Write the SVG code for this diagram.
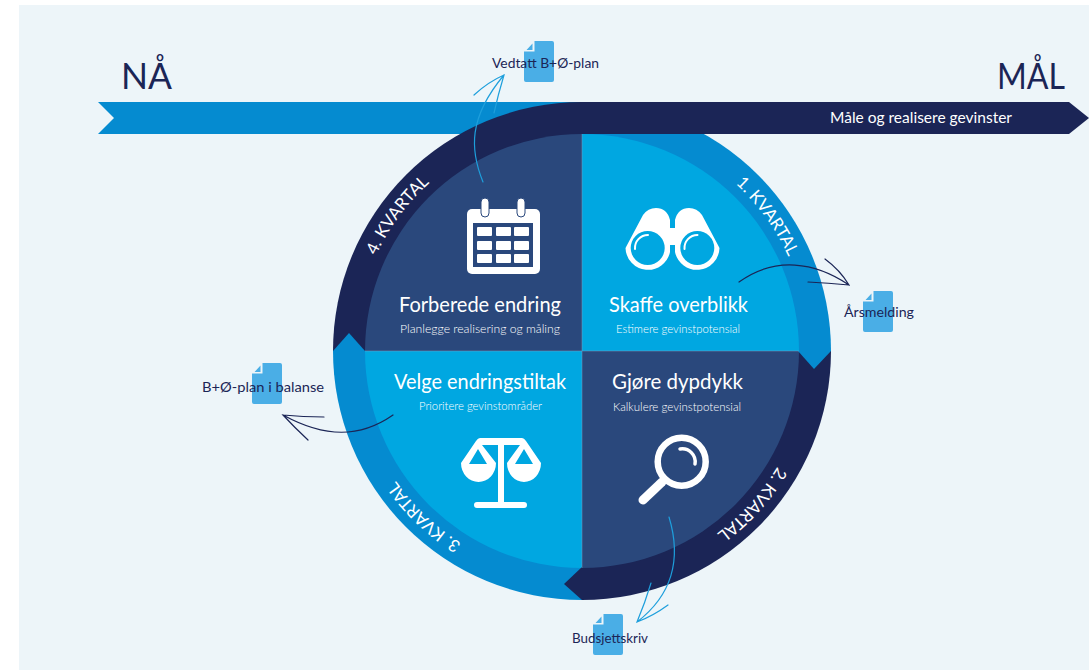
<svg xmlns="http://www.w3.org/2000/svg" width="1089" height="670" viewBox="0 0 1089 670">
<style>
text{font-family:"Lato","Liberation Sans",sans-serif}
.t{fill:#fff;font-size:22px;font-weight:400}
.s{fill:#fff;font-size:12px;font-weight:300}
.k{fill:#fff;font-size:17px;text-anchor:middle;font-weight:400}
.d{fill:#1b2556;font-size:14px}
.h{fill:#1b2556;font-size:37px;font-weight:400}
.doc{fill:#4aaee6}
.w{fill:#fff}
.ws{fill:none;stroke:#fff;stroke-linecap:round}
.cd{fill:none;stroke:#1b2556;stroke-width:1.2;stroke-linecap:round}
.cb{fill:none;stroke:#1e9fdc;stroke-width:1.2;stroke-linecap:round}
</style>
<defs>
<path id="ring" d="M582,124 A227,227 0 1 1 581.99,124"/>
<path id="docshape" d="M10.500,0 H28 Q30,0 30,2 V39 Q30,41 28,41 H2 Q0,41 0,39 V10.500 H10.500 Z M8.500,2.500 V9 H2.500 Z"/>
</defs>
<rect x="19" y="5" width="1070" height="665" fill="#edf5f9"/>

<g id="timeline">
<path d="M98,102 H590 V134 H98 L114,118 Z" fill="#058bd0"/>
</g>

<g id="ring-segments">
<path id="ring-q1" d="M582,102 A249,249 0 0 1 831,351 H582 Z" fill="#058bd0"/>
<path id="ring-q2" d="M831,351 A249,249 0 0 1 582,600 V351 Z" fill="#1b2556"/>
<path id="ring-q3" d="M582,600 A249,249 0 0 1 333,351 H582 Z" fill="#058bd0"/>
<path id="ring-q4" d="M333,351 A249,249 0 0 1 582,102 V351 Z" fill="#1b2556"/>
</g>

<path id="goal-bar" d="M582,102 H1069 L1089,118 L1069,134 H582 Z" fill="#1b2556"/>

<g id="q1">
<path d="M582,134 A217,217 0 0 1 799,351 H582 Z" fill="#00a7e1"/>
<path d="M625.500,248 L643,215 Q648,208 656,208 Q667,208 670,220 V228 H675 V220 Q678,208 689,208 Q697,208 702,215 L719.500,248 A22.500,22.500 0 0 1 675,252 V245 H670 V252 A22.500,22.500 0 0 1 625.500,248 Z" class="w"/>
<circle cx="647.700" cy="248" r="17" fill="#00a7e1"/>
<circle cx="697.300" cy="248" r="17" fill="#00a7e1"/>
<path d="M635,249 A13,13 0 0 1 648,235" class="ws" stroke-width="2"/>
<path d="M684.500,249 A13,13 0 0 1 697.500,235" class="ws" stroke-width="2"/>
<text class="t" x="609" y="312" textLength="139" lengthAdjust="spacingAndGlyphs">Skaffe overblikk</text>
<text class="s" x="616" y="333" textLength="124" lengthAdjust="spacingAndGlyphs">Estimere gevinstpotensial</text>
</g>

<g id="q2">
<path d="M799,351 A217,217 0 0 1 582,568 V351 Z" fill="#2a487c"/>
<circle cx="681.700" cy="461.700" r="24" fill="none" stroke="#fff" stroke-width="6.500"/>
<path d="M662,482 L643,500" class="ws" stroke-width="9"/>
<path d="M680,449 A13,13 0 0 1 695,464" class="ws" stroke-width="3.500"/>
<text class="t" x="612" y="389" textLength="131" lengthAdjust="spacingAndGlyphs">Gjøre dypdykk</text>
<text class="s" x="613" y="411" textLength="128" lengthAdjust="spacingAndGlyphs">Kalkulere gevinstpotensial</text>
</g>

<g id="q3">
<path d="M582,568 A217,217 0 0 1 365,351 H582 Z" fill="#00a7e1"/>
<path class="w" d="M480,438 H522 Q524,438 526,441 L541,463 A17,19 0 0 1 507,463 L520,445 H504 V502 H524 Q527,502 527,505 Q527,508 524,508 H477 Q474,508 474,505 Q474,502 477,502 H498 V445 H482 L496,463 A17.500,19 0 0 1 461,463 L476,441 Q478,438 480,438 Z"/>
<path d="M478,449 L469,464 H487 Z M524,449 L515,464 H533 Z" fill="#00a7e1"/>
<text class="t" x="394" y="389" textLength="172" lengthAdjust="spacingAndGlyphs">Velge endringstiltak</text>
<text class="s" x="419" y="410" textLength="123" lengthAdjust="spacingAndGlyphs">Prioritere gevinstområder</text>
</g>

<g id="q4">
<path d="M365,351 A217,217 0 0 1 582,134 V351 Z" fill="#2a487c"/>
<rect x="467" y="209" width="73" height="65" rx="5" class="w"/>
<rect x="473" y="223" width="60" height="44" fill="#2a487c"/>
<g class="w">
<rect x="477" y="227" width="15" height="9" rx="1"/><rect x="496" y="227" width="15" height="9" rx="1"/><rect x="514" y="227" width="15" height="9" rx="1"/>
<rect x="477" y="241" width="15" height="9" rx="1"/><rect x="496" y="241" width="15" height="9" rx="1"/><rect x="514" y="241" width="15" height="9" rx="1"/>
<rect x="477" y="254" width="15" height="9" rx="1"/><rect x="496" y="254" width="15" height="9" rx="1"/><rect x="514" y="254" width="15" height="9" rx="1"/>
<rect x="481" y="198" width="8" height="19" rx="4" stroke="#2a487c" stroke-width="1"/>
<rect x="517" y="198" width="8" height="19" rx="4" stroke="#2a487c" stroke-width="1"/>
</g>
<text class="t" x="399" y="312" textLength="162" lengthAdjust="spacingAndGlyphs">Forberede endring</text>
<text class="s" x="400" y="333" textLength="160" lengthAdjust="spacingAndGlyphs">Planlegge realisering og måling</text>
</g>

<g id="ring-arrowheads">
<path d="M798,351 L814,369 L831,351 Z" fill="#058bd0"/>
<path d="M582,567 L564,584 L582,600 Z" fill="#1b2556"/>
<path d="M333,351 L349,333 L365,351 Z" fill="#058bd0"/>
</g>
<g id="dividers" stroke="#7f9fc0" stroke-width="0.800" stroke-opacity="0.600">
<path d="M582,134 V568 M365,351 H799"/>
</g>

<g id="ring-labels">
<text class="k"><textPath href="#ring" startOffset="15%">1. KVARTAL</textPath></text>
<text class="k"><textPath href="#ring" startOffset="36.700%">2. KVARTAL</textPath></text>
<text class="k"><textPath href="#ring" startOffset="62.100%">3. KVARTAL</textPath></text>
<text class="k"><textPath href="#ring" startOffset="85.100%">4. KVARTAL</textPath></text>
</g>

<g id="doc-vedtatt">
<use href="#docshape" x="524" y="41" class="doc"/>
<text class="d" x="492" y="68" textLength="107" lengthAdjust="spacingAndGlyphs">Vedtatt B+Ø-plan</text>
</g>
<g id="doc-arsmelding">
<use href="#docshape" x="863" y="291" class="doc"/>
<text class="d" x="844" y="317" textLength="70" lengthAdjust="spacingAndGlyphs">Årsmelding</text>
</g>
<g id="doc-balanse">
<use href="#docshape" x="252" y="363" class="doc"/>
<text class="d" x="202" y="392" textLength="122" lengthAdjust="spacingAndGlyphs">B+Ø-plan i balanse</text>
</g>
<g id="doc-budsjett">
<use href="#docshape" x="593" y="614" class="doc"/>
<text class="d" x="572" y="643" textLength="76" lengthAdjust="spacingAndGlyphs">Budsjettskriv</text>
</g>

<g id="connectors">
<path class="cb" d="M483,182 C470,150 468,118 504,75 M474,95 Q488,82 504,75 Q498,95 494,113"/>
<path class="cd" d="M739,282 C775,256 815,262 849,285 M825,259 Q840,270 849,285 Q828,283 808,282"/>
<path class="cb" d="M669,517 C682,560 672,595 637,622 M651,583 Q645,603 637,622 Q653,616 668,605"/>
<path class="cd" d="M393,415 C360,438 325,438 283,415 M324,417 Q303,417 283,415 Q295,428 308,440"/>
</g>

<g id="headings">
<text class="h" x="121" y="89" textLength="51" lengthAdjust="spacingAndGlyphs">NÅ</text>
<text class="h" x="997" y="89" textLength="68" lengthAdjust="spacingAndGlyphs">MÅL</text>
<text x="830" y="123" fill="#fff" font-size="15" textLength="182" lengthAdjust="spacingAndGlyphs">Måle og realisere gevinster</text>
</g>
</svg>
